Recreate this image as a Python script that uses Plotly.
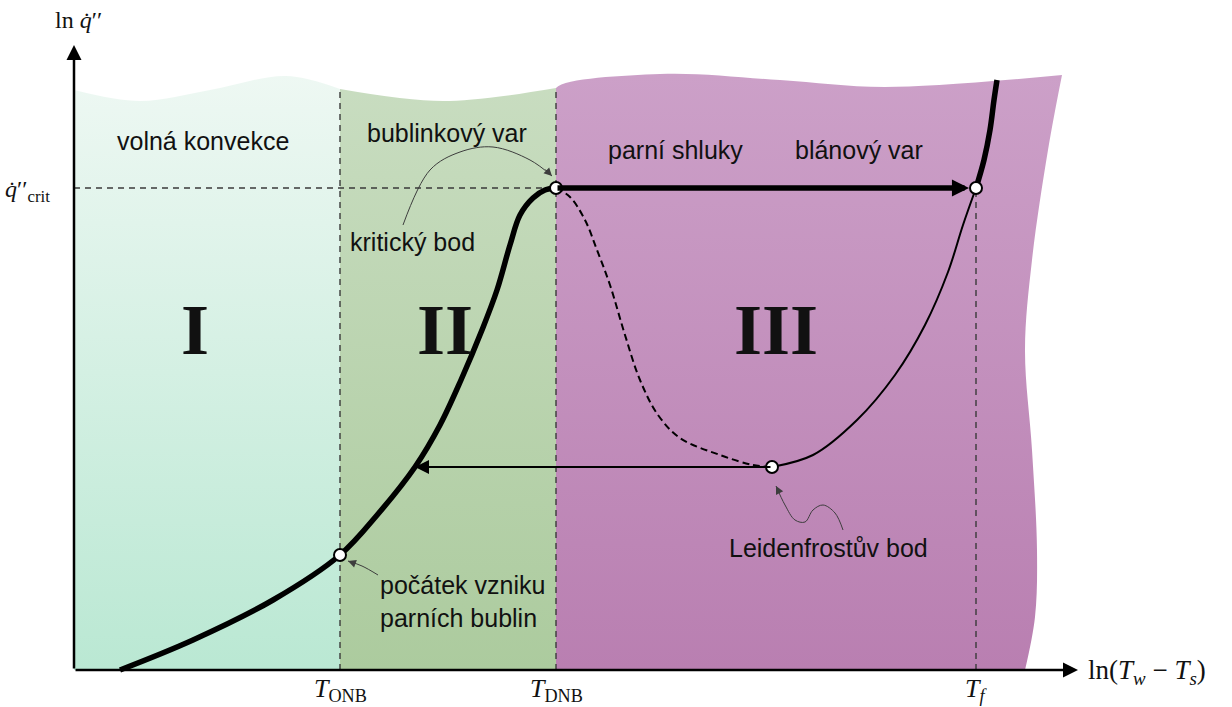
import plotly.graph_objects as go

# ---- characteristic temperatures (ln of wall superheat) and critical flux ----
T_ONB = 2.66
T_DNB = 4.82
T_F = 9.02
Q_CRIT = 4.82
tick_pos = [T_ONB, T_DNB, T_F]
tick_text = ["<i>T</i><sub>ONB</sub>", "<i>T</i><sub>DNB</sub>", "<i>T</i><sub><i>f</i></sub>"]

# ---- boiling curve ----
# convection + nucleate boiling up to the critical point
nucleate_x = [0.46, 1.19, 1.99, 2.66, 3.04, 3.41, 3.66, 3.87, 4.08, 4.23, 4.36, 4.46, 4.59, 4.71, 4.82]
nucleate_y = [0.00, 0.30, 0.70, 1.15, 1.56, 2.03, 2.45, 2.90, 3.40, 3.80, 4.25, 4.55, 4.72, 4.80, 4.82]
# film boiling above T_f
film_hi_x = [9.02, 9.10, 9.16, 9.20, 9.23]
film_hi_y = [4.82, 5.10, 5.40, 5.70, 5.90]
# unstable transition branch (dashed)
transition_x = [4.82, 4.96, 5.11, 5.23, 5.36, 5.51, 5.66, 5.84, 6.06, 6.46, 6.79, 6.98]
transition_y = [4.82, 4.73, 4.50, 4.20, 3.85, 3.35, 2.90, 2.55, 2.32, 2.15, 2.05, 2.03]
# film boiling branch from Leidenfrost point to T_f
film_lo_x = [6.98, 7.39, 7.83, 8.21, 8.51, 8.74, 8.89, 9.02]
film_lo_y = [2.03, 2.15, 2.50, 2.95, 3.45, 3.98, 4.45, 4.82]

# special points
onb_pt = (T_ONB, 1.15)
chf_pt = (T_DNB, Q_CRIT)
tf_pt = (T_F, Q_CRIT)
leid_pt = (6.98, 2.03)
leid_return_x = 3.41  # where the cooling path rejoins the nucleate curve

# ---- regime backgrounds ----
# wavy upper boundaries
reg1_top_x = [0.00, 0.66, 1.36, 2.12, 2.66]
reg1_top_y = [5.80, 5.69, 5.80, 5.94, 5.81]
reg2_top_x = [2.66, 3.69, 4.82]
reg2_top_y = [5.81, 5.69, 5.82]
reg3_top_x = [4.82, 4.82, 4.82, 5.86, 7.06, 8.11, 9.88]
reg3_top_y = [0.00, 5.70, 5.82, 5.96, 5.90, 5.83, 5.95]
# wavy right boundary of regime III (bottom to top)
reg3_right_x = [9.51, 9.61, 9.63, 9.58, 9.51, 9.58, 9.74, 9.88]
reg3_right_y = [0.00, 0.53, 1.20, 2.20, 3.20, 4.10, 5.20, 5.95]

TEXT_FONT = "Liberation Sans, Arial, sans-serif"
MATH_FONT = "Liberation Serif, Times New Roman, serif"
INK = "#111111"
GUIDE = "#3a3a3a"
TOP = 5.96

fig = go.Figure()


def region(base_x, base_y, edge_x, edge_y, top_col, bottom_col, base_shape="linear"):
    """Fill between a base path and a smooth edge path with a vertical gradient."""
    fig.add_trace(go.Scatter(x=base_x, y=base_y, mode="lines",
                             line=dict(width=0, shape=base_shape), hoverinfo="skip"))
    fig.add_trace(go.Scatter(
        x=edge_x, y=edge_y, mode="lines", fill="tonexty",
        line=dict(width=0, shape="spline", smoothing=1),
        fillgradient=dict(type="vertical", start=0, stop=TOP,
                          colorscale=[[0, bottom_col], [1, top_col]]),
        hoverinfo="skip",
    ))


# regime III first, so the neighbouring fills cover its left seam
region(reg3_right_x, reg3_right_y, reg3_top_x, reg3_top_y, "#cca0c8", "#b97fb1", base_shape="spline")
region([T_ONB, T_DNB], [0, 0], reg2_top_x, reg2_top_y, "#c9ddc1", "#accb9e")
region([0, T_ONB], [0, 0], reg1_top_x, reg1_top_y, "#eef8f3", "#bae8d3")

# dashed guide lines
dash = dict(color=GUIDE, width=1.4, dash="6px,5px")
fig.add_trace(go.Scatter(x=[0, T_DNB], y=[Q_CRIT, Q_CRIT], mode="lines", line=dash, hoverinfo="skip"))
fig.add_trace(go.Scatter(x=[T_ONB, T_ONB], y=[0, 5.81], mode="lines", line=dash, hoverinfo="skip"))
fig.add_trace(go.Scatter(x=[T_DNB, T_DNB], y=[0, 5.82], mode="lines", line=dash, hoverinfo="skip"))
fig.add_trace(go.Scatter(x=[T_F, T_F], y=[0, Q_CRIT], mode="lines", line=dash, hoverinfo="skip"))

# boiling curve branches
fig.add_trace(go.Scatter(x=transition_x, y=transition_y, mode="lines",
                         line=dict(color="black", width=2, dash="7px,4px", shape="spline"), hoverinfo="skip"))
fig.add_trace(go.Scatter(x=film_lo_x, y=film_lo_y, mode="lines",
                         line=dict(color="black", width=2, shape="spline"), hoverinfo="skip"))
fig.add_trace(go.Scatter(x=nucleate_x, y=nucleate_y, mode="lines",
                         line=dict(color="black", width=5.5, shape="spline"), hoverinfo="skip"))
fig.add_trace(go.Scatter(x=film_hi_x, y=film_hi_y, mode="lines",
                         line=dict(color="black", width=5.5, shape="spline"), hoverinfo="skip"))

# annotation leader curves
leader_crit = ([3.29, 3.56, 3.86, 4.19, 4.56, 4.78], [4.45, 5.00, 5.18, 5.23, 5.10, 4.94])
leader_leid = ([7.69, 7.61, 7.49, 7.39, 7.31, 7.21, 7.11, 7.02], [1.40, 1.57, 1.65, 1.60, 1.48, 1.50, 1.65, 1.84])
leader_onb = ([3.04, 2.88, 2.74], [0.95, 1.04, 1.09])
for lx, ly in (leader_crit, leader_leid, leader_onb):
    fig.add_trace(go.Scatter(x=lx, y=ly, mode="lines",
                             line=dict(color="#3d3d3d", width=1, shape="spline"), hoverinfo="skip"))

arrows = []


def arrow(x, y, ax, ay, width, size, head=2, color="black", standoff=0):
    arrows.append(dict(x=x, y=y, ax=ax, ay=ay, xref="x", yref="y", axref="x", ayref="y",
                       text="", showarrow=True, arrowhead=head, arrowsize=size,
                       arrowwidth=width, arrowcolor=color, standoff=standoff))


# coordinate axes
arrow(0, 6.25, 0, 0, 2.5, 1.2)
arrow(10.04, 0, 0, 0, 2.5, 1.2)
# heating path across the critical point, cooling path from Leidenfrost point
arrow(tf_pt[0], tf_pt[1], chf_pt[0], chf_pt[1], 5.5, 0.62, head=2, standoff=7)
arrow(leid_return_x, leid_pt[1], leid_pt[0], leid_pt[1], 2, 1.4, head=2)
# leader arrowheads
arrow(leader_crit[0][-1], leader_crit[1][-1], 4.70, 5.02, 1, 1.6, color="#3d3d3d")
arrow(leader_leid[0][-1], leader_leid[1][-1], 7.06, 1.76, 1, 1.6, color="#3d3d3d")
arrow(leader_onb[0][-1], leader_onb[1][-1], 2.82, 1.06, 1, 1.6, color="#3d3d3d")

# special points
px, py = zip(onb_pt, chf_pt, tf_pt, leid_pt)
fig.add_trace(go.Scatter(x=px, y=py, mode="markers",
                         marker=dict(size=12, color="white", line=dict(color="black", width=2)),
                         hoverinfo="skip"))

labels = []


def label(x, y, text, size=25, font=TEXT_FONT, xanchor="center", align="center"):
    labels.append(dict(x=x, y=y, xref="x", yref="y", text=text, showarrow=False,
                       xanchor=xanchor, yanchor="middle", align=align,
                       font=dict(family=font, size=size, color=INK)))


label(1.29, 5.29, "volná konvekce")
label(3.73, 5.37, "bublinkový var")
label(3.38, 4.28, "kritický bod")
label(6.01, 5.20, "parní shluky")
label(7.85, 5.20, "blánový var")
label(7.54, 1.22, "Leidenfrostův bod")
label(3.04, 0.69, "počátek vzniku<br>parních bublin", xanchor="left", align="left")
for x, t in zip([1.21, 3.71, 7.02], ["I", "II", "III"]):
    label(x, 3.40, "<b>" + t + "</b>", size=72, font=MATH_FONT)

# axis titles and marked values
label(0.04, 6.50, "ln <i>q̇</i>′′", size=24, font=MATH_FONT)
label(-0.22, 4.79, "<i>q̇</i>′′<sub>crit</sub>", size=24, font=MATH_FONT, xanchor="right")
for x, t in zip(tick_pos, tick_text):
    label(x, -0.20, t, size=26, font=MATH_FONT)
label(10.12, -0.02, "ln(<i>T</i><sub><i>w</i></sub> − <i>T</i><sub><i>s</i></sub>)",
      size=27, font=MATH_FONT, xanchor="left")

fig.update_layout(
    width=1232, height=707,
    margin=dict(l=0, r=0, t=0, b=0),
    paper_bgcolor="white", plot_bgcolor="white",
    showlegend=False,
    xaxis=dict(range=[-0.74, 11.58], visible=False, fixedrange=True),
    yaxis=dict(range=[-0.37, 6.70], visible=False, fixedrange=True),
    annotations=arrows + labels,
)

fig.write_html("out.html")
